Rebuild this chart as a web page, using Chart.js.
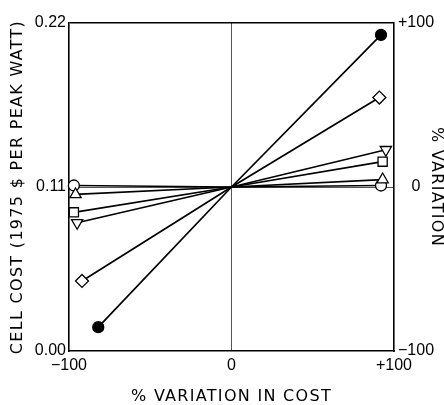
<!DOCTYPE html>
<html>
<head>
<meta charset="utf-8">
<script src="https://cdn.jsdelivr.net/npm/chart.js@4.4.1/dist/chart.umd.min.js"></script>
<style>
  html, body { margin: 0; padding: 0; background: #fff; }
  #chart { display: block; }
</style>
</head>
<body>
<canvas id="chart" width="444" height="405"></canvas>
<script>
// values: each curve goes from the low-cost end, through the base case, to the high-cost end
const baseVariation = 0;
const baseCost = 0.11;
const lowVariation = [-82, -92, -95, -97, -96, -97];
const lowCost = [0.016, 0.047, 0.086, 0.093, 0.105, 0.111];
const highVariation = [92, 91, 95, 93, 93, 92];
const highCost = [0.212, 0.170, 0.135, 0.127, 0.115, 0.111];

const variationTicks = [-100, 0, 100];
const costTicks = [0, 0.11, 0.22];
const percentTicks = [-100, 0, 100];

// marker for each curve (same order as the arrays above)
const markers = [
  { style: 'circle', rotation: 0, radius: 5.5, fill: '#000' },
  { style: 'rectRot', rotation: 0, radius: 6.5, fill: '#fff' },
  { style: 'triangle', rotation: 180, radius: 6.5, fill: '#fff' },
  { style: 'rect', rotation: 0, radius: 6.5, fill: '#fff' },
  { style: 'triangle', rotation: 0, radius: 6.5, fill: '#fff' },
  { style: 'circle', rotation: 0, radius: 5.5, fill: '#fff' }
];

const TITLE_SPACING = '1.3px';
const tickFont = { family: 'Liberation Sans', size: 16 };
const titleFont = { family: 'DejaVu Sans', size: 16, lineHeight: 1 };

function signedLabel(v) {
  if (v > 0) return '+' + v;
  if (v < 0) return '\u2212' + Math.abs(v);
  return '0';
}

const datasets = lowVariation.map((lx, i) => {
  const m = markers[i];
  return {
    data: [
      { x: lx, y: lowCost[i] },
      { x: baseVariation, y: baseCost },
      { x: highVariation[i], y: highCost[i] }
    ],
    borderColor: '#000',
    borderWidth: 1.7,
    tension: 0,
    pointStyle: m.style,
    pointRotation: m.rotation,
    pointRadius: [m.radius, 0, m.radius],
    pointHoverRadius: [m.radius, 0, m.radius],
    pointBackgroundColor: m.fill,
    pointBorderColor: '#000',
    pointBorderWidth: 1.3,
    clip: false
  };
});

// axis titles in the figure are lettered with wide spacing
const spacedTitles = {
  id: 'spacedTitles',
  beforeDraw(chart) {
    Object.values(chart.scales).forEach((scale) => {
      if (scale._spaced) return;
      const orig = scale.drawTitle;
      scale.drawTitle = function () {
        this.ctx.save();
        this.ctx.letterSpacing = TITLE_SPACING;
        orig.call(this);
        this.ctx.restore();
      };
      scale._spaced = true;
    });
  }
};

new Chart(document.getElementById('chart'), {
  type: 'line',
  data: { datasets },
  options: {
    responsive: false,
    animation: false,
    layout: { padding: { top: 23, right: 0, bottom: 0, left: 0 } },
    plugins: { legend: { display: false }, tooltip: { enabled: false } },
    scales: {
      x: {
        type: 'linear',
        min: -100,
        max: 100,
        afterBuildTicks: (s) => { s.ticks = variationTicks.map((v) => ({ value: v })); },
        afterFit: (s) => { s.height = 54; },
        ticks: { callback: signedLabel, color: '#000', font: tickFont, padding: 5, maxRotation: 0 },
        grid: {
          drawTicks: false,
          color: (c) => (c.tick && c.tick.value === 0 ? '#555' : 'rgba(0,0,0,0)'),
          lineWidth: 1
        },
        border: { color: '#000', width: 1.6 },
        title: { display: true, text: '% VARIATION IN COST', color: '#000', font: titleFont, padding: 0 }
      },
      y: {
        position: 'left',
        min: 0,
        max: 0.22,
        afterBuildTicks: (s) => { s.ticks = costTicks.map((v) => ({ value: v })); },
        afterFit: (s) => { s.width = 69; },
        ticks: { callback: (v) => v.toFixed(2), color: '#000', font: tickFont, padding: 3 },
        grid: {
          drawTicks: false,
          color: (c) => {
            if (!c.tick) return 'rgba(0,0,0,0)';
            if (c.tick.value === 0.22) return '#000';
            if (c.tick.value === 0.11) return '#555';
            return 'rgba(0,0,0,0)';
          },
          lineWidth: (c) => (c.tick && c.tick.value === 0.22 ? 1.6 : 1)
        },
        border: { color: '#000', width: 1.6 },
        title: { display: true, text: 'CELL COST (1975 $ PER PEAK WATT)', color: '#000', font: titleFont, padding: { top: 10, bottom: 0 } }
      },
      y2: {
        position: 'right',
        min: -100,
        max: 100,
        afterBuildTicks: (s) => { s.ticks = percentTicks.map((v) => ({ value: v })); },
        afterFit: (s) => { s.width = 50; },
        ticks: { callback: signedLabel, color: '#000', font: tickFont, padding: 4, crossAlign: 'center' },
        grid: { display: false, drawTicks: false },
        border: { color: '#000', width: 1.6 },
        title: { display: true, text: '% VARIATION', color: '#000', font: titleFont, padding: 0 }
      }
    }
  },
  plugins: [spacedTitles]
});
</script>
</body>
</html>
